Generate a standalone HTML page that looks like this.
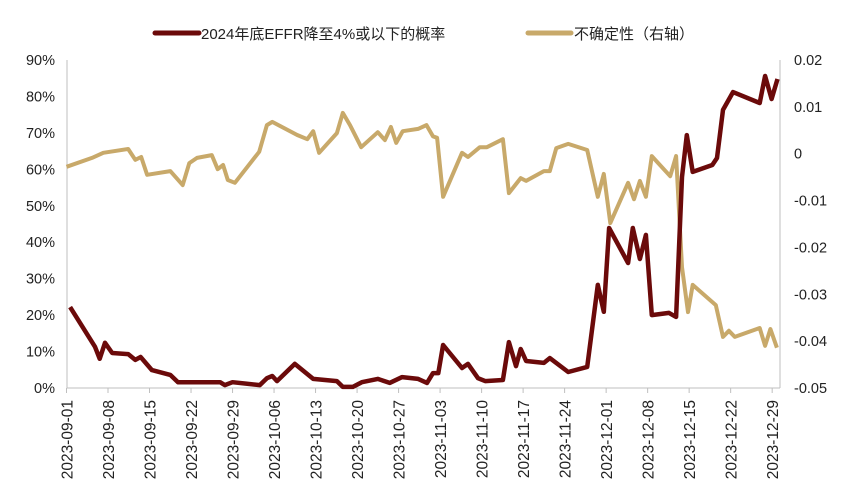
<!DOCTYPE html>
<html><head><meta charset="utf-8">
<style>
html,body{margin:0;padding:0;background:#fff;}
svg{display:block;font-family:"Liberation Sans","Noto Sans CJK SC",sans-serif;}
</style></head>
<body>
<svg id="chart" width="851" height="496" viewBox="0 0 851 496" xmlns="http://www.w3.org/2000/svg">
  <g id="legend">
    <g>
      <line x1="155" y1="33" x2="199" y2="33" stroke="#6b0a0a" stroke-width="5" stroke-linecap="round"/>
      <text x="201" y="39" font-size="15" fill="#222">2024年底EFFR降至4%或以下的概率</text>
    </g>
    <g>
      <line x1="528" y1="33" x2="571" y2="33" stroke="#c8a96a" stroke-width="5" stroke-linecap="round"/>
      <text x="574" y="39" font-size="15" fill="#222">不确定性（右轴）</text>
    </g>
  </g>
  <g id="axes"></g>
  <g id="series"></g>
</svg>
<script>
const tickLabelsLeft = ["0%","10%","20%","30%","40%","50%","60%","70%","80%","90%"];
const tickValuesRight = [0.02,0.01,0,-0.01,-0.02,-0.03,-0.04,-0.05];
const tickLabelsRight = ["0.02","0.01","0","-0.01","-0.02","-0.03","-0.04","-0.05"];
const dateLabels = ["2023-09-01","2023-09-08","2023-09-15","2023-09-22","2023-09-29","2023-10-06","2023-10-13","2023-10-20","2023-10-27","2023-11-03","2023-11-10","2023-11-17","2023-11-24","2023-12-01","2023-12-08","2023-12-15","2023-12-22","2023-12-29"];
const probDays = [0.6,4.8,5.6,6.5,7.7,10.4,11.6,12.5,14.4,17.5,18.8,25.9,26.7,28,32.6,33.8,34.7,35.5,38.5,41.6,45.6,46.6,48.3,49.8,52.5,54.5,56.6,59.3,60.8,61.8,62.7,63.5,66.7,67.7,69.4,70.6,73.6,74.6,75.8,76.6,77.5,80.5,81.5,84.6,87.8,89.6,90.6,91.5,94.7,95.5,96.7,97.7,98.7,101.6,102.8,103.8,104.6,105.6,108.9,109.7,110.7,112.4,116.9,117.8,118.9,119.9];
const probValues = [22.2,11.3,8,12.4,9.6,9.3,7.7,8.5,4.9,3.6,1.6,1.6,0.8,1.6,0.8,2.7,3.3,1.9,6.6,2.5,1.9,0.3,0.3,1.6,2.5,1.4,3.0,2.5,1.4,4.1,4.1,11.8,5.5,6.6,2.7,1.9,2.2,12.6,6,10.7,7.4,6.9,8.2,4.4,5.8,28.3,20.9,43.9,34.3,43.9,35.4,42,20,20.6,19.5,57.9,69.4,59.3,61.2,63.1,76.3,81.2,78.2,85.6,79.3,84.8];
const uncDays = [0,4.3,6.2,10.4,11.6,12.6,13.6,17.5,19.6,20.7,22,24.5,25.5,26.4,27.2,28.4,32.5,33.8,34.7,38.9,40.6,41.6,42.6,45.6,46.6,47.8,49.7,52.5,53.7,54.7,55.6,56.7,59.3,60.7,61.8,62.5,63.5,66.7,67.7,69.7,70.9,73.6,74.6,76.6,77.5,80.5,81.5,82.6,84.6,87.8,89.6,90.6,91.7,94.7,95.7,96.7,97.7,98.7,101.8,102.8,103.8,104.8,105.6,109.5,110.7,111.7,112.7,116.9,117.8,118.7,119.8];
const uncValues = [-0.0028,-0.0009,0.0002,0.0010,-0.0013,-0.0007,-0.0045,-0.0037,-0.0067,-0.0020,-0.0009,-0.0003,-0.0033,-0.0024,-0.0056,-0.0062,0.0004,0.0061,0.0068,0.0040,0.0031,0.0048,0.0002,0.0044,0.0087,0.0061,0.0014,0.0046,0.0029,0.0057,0.0023,0.0048,0.0053,0.0061,0.0037,0.0034,-0.0092,0.0002,-0.0007,0.0014,0.0014,0.0031,-0.0084,-0.0052,-0.0058,-0.0037,-0.0037,0.0012,0.0021,0.0008,-0.0092,-0.0043,-0.0148,-0.0062,-0.0097,-0.0058,-0.0092,-0.0005,-0.0048,-0.0005,-0.0242,-0.0338,-0.0280,-0.0323,-0.0391,-0.0378,-0.0391,-0.0372,-0.0410,-0.0374,-0.0414];

const NS = "http://www.w3.org/2000/svg";
const X0 = 66.5, DAYPX = 5.93, PLOT_L = 67, PLOT_R = 780, Y_TOP = 60, Y_BOT = 388;
function xScale(d){ return X0 + d * DAYPX; }
function yLeft(p){ return Y_BOT - (p / 90) * (Y_BOT - Y_TOP); }
function yRight(v){ return Y_TOP + (0.02 - v) / 0.07 * (Y_BOT - Y_TOP); }
function mk(tag, attrs, parent){ const e = document.createElementNS(NS, tag); for (const k in attrs) e.setAttribute(k, attrs[k]); parent.appendChild(e); return e; }

const axes = document.getElementById('axes');
const series = document.getElementById('series');

const la = mk('line', {x1:PLOT_L, y1:Y_TOP, x2:PLOT_L, y2:Y_BOT, stroke:'#bfbfbf', 'stroke-width':1}, axes);


const ra = mk('line', {x1:PLOT_R, y1:Y_TOP, x2:PLOT_R, y2:Y_BOT, stroke:'#bfbfbf', 'stroke-width':1}, axes);


const xa = mk('line', {x1:PLOT_L, y1:Y_BOT, x2:PLOT_R, y2:Y_BOT, stroke:'#bfbfbf', 'stroke-width':1}, axes);



tickLabelsLeft.forEach((lab, i) => {
  const t = mk('text', {x:55, y:yLeft(i*10)+5, 'text-anchor':'end', 'font-size':14.5, fill:'#222'}, axes);
  t.textContent = lab;
  
  
});
tickValuesRight.forEach((v, i) => {
  const t = mk('text', {x:794, y:yRight(v)+5, 'text-anchor':'start', 'font-size':14.5, fill:'#222'}, axes);
  t.textContent = tickLabelsRight[i];
  
  
});
dateLabels.forEach((lab, i) => {
  const x = xScale(i*7);
  const tk = mk('line', {x1:x, y1:Y_BOT, x2:x, y2:Y_BOT+5, stroke:'#bfbfbf', 'stroke-width':1}, axes);
  
  
  const t = mk('text', {x:0, y:0, 'text-anchor':'end', 'font-size':15.5, fill:'#222', transform:`translate(${x+6},${Y_BOT+12}) rotate(-90)`}, axes);
  t.textContent = lab;
  
  
});

const up = mk('polyline', {points: uncDays.map((d,i)=>xScale(d).toFixed(1)+','+yRight(uncValues[i]).toFixed(1)).join(' '), fill:'none', stroke:'#c8a96a', 'stroke-width':4, 'stroke-linejoin':'round'}, series);


const pp = mk('polyline', {points: probDays.map((d,i)=>xScale(d).toFixed(1)+','+yLeft(probValues[i]).toFixed(1)).join(' '), fill:'none', stroke:'#6b0a0a', 'stroke-width':4.5, 'stroke-linejoin':'round'}, series);


</script>
</body></html>
